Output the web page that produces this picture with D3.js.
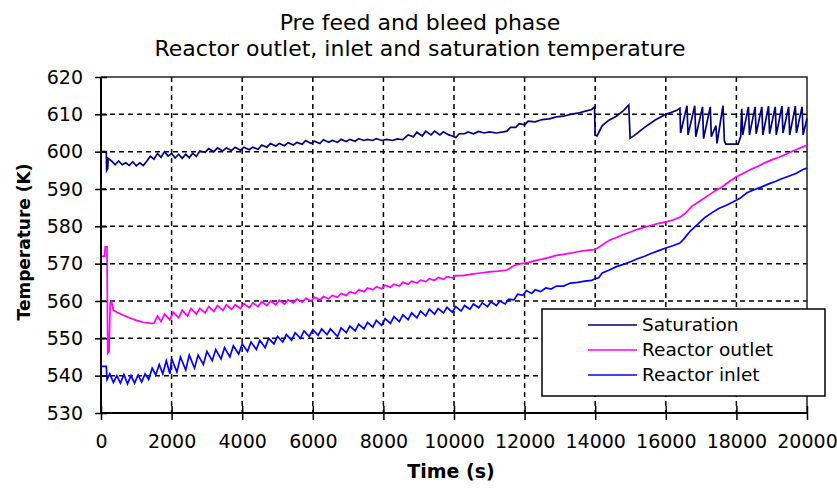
<!DOCTYPE html>
<html>
<head>
<meta charset="utf-8">
<script src="https://cdn.jsdelivr.net/npm/d3@7"></script>
<style>
  body { margin: 0; background: #fff; }
  svg { display: block; }
  text { font-family: "DejaVu Sans", "Liberation Sans", Arial, sans-serif; fill: #000; }
</style>
</head>
<body>
<svg id="chart" width="837" height="490"></svg>
<script>
// Tick values
const xTicks = [0, 2000, 4000, 6000, 8000, 10000, 12000, 14000, 16000, 18000, 20000];
const yTicks = [530, 540, 550, 560, 570, 580, 590, 600, 610, 620];

const titleLines = ['Pre feed and bleed phase', 'Reactor outlet, inlet and saturation temperature'];
const seriesNames = ['Saturation', 'Reactor outlet', 'Reactor inlet'];
const seriesColors = ['#000080', '#ff00ff', '#0000ff'];

// Saturation temperature [time (s), K]
const saturation = [
  [0,600],[150,600],[160,595],[190,595.5],[200,598.2],[300,597.5],[400,596.5],[500,597.5],[600,596.5],
  [700,597],[800,596.3],[900,597.3],[1000,596.2],[1100,597],[1200,596.3],[1300,597.5],[1400,598.8],
  [1500,598],[1600,599.5],[1700,598.5],[1800,600],[1900,598.8],[2000,599.5],[2100,598.3],[2200,599.3],
  [2300,598.2],[2400,599.3],[2500,598.4],[2600,599.6],[2700,598.7],[2800,600.2],[2950,599.8],[3050,600.8],
  [3200,600],[3300,601],[3450,600.2],[3550,601],[3700,600.3],[3800,601.2],[3950,600.4],[4050,601.2],
  [4200,600.5],[4300,601.2],[4450,600.6],[4550,601.8],[4700,601.2],[4800,602.2],[4950,601.5],[5050,602.2],
  [5200,601.6],[5300,602.4],[5450,601.8],[5550,602.5],[5700,602],[5800,603],[5950,602.2],[6050,602.8],
  [6200,602.2],[6300,603.2],[6450,602.5],[6550,603],[6700,602.5],[6800,603.3],[6950,602.7],[7050,603.3],
  [7200,602.8],[7300,603.5],[7450,603],[7550,603.3],[7700,603],[7800,603.5],[7950,603],[8100,603.3],
  [8250,603],[8400,603.4],[8550,603.2],[8700,604.5],[8850,604],[8950,605.2],[9100,604.2],[9200,605.5],
  [9350,604.5],[9450,605.5],[9600,604.5],[9700,605.3],[9850,604.5],[9950,604.2],[10050,603.8],[10150,604.8],
  [10300,604.8],[10400,605.3],[10550,604.8],[10700,605.4],[10850,605],[11000,605.3],[11200,605],[11400,605.3],
  [11500,605.5],[11600,606.5],[11750,606.5],[11850,607.5],[12000,607.2],[12100,608.2],[12300,608],[12500,608.6],
  [12700,608.8],[12900,609.3],[13100,609.5],[13300,610],[13500,610.3],[13700,610.8],[13900,611.3],[13980,612],
  [14000,604.5],[14050,604.2],[14200,607],[14400,608.5],[14600,609.5],[14800,611],[14950,612.5],[14990,603.6],
  [15100,604.3],[15400,606.5],[15700,608.5],[16000,610],[16300,611],[16400,611.6],[16420,605],[16600,612.3],
  [16630,604.5],[16820,612.3],[16850,604],[17040,612],[17070,603.5],[17260,612],[17290,604],[17420,607],
  [17450,602.2],[17620,612.3],[17660,602.8],[17700,602],[18050,602],[18120,604],[18150,611.5],[18180,604.5],
  [18340,612],[18370,604.5],[18530,612],[18560,604.8],[18720,612],[18750,604.5],[18910,612.2],[18940,604.8],
  [19100,612],[19130,604.5],[19290,612.2],[19320,605],[19480,612],[19510,604.5],[19670,612.2],[19700,605],
  [19860,612],[19890,604.5],[20000,609]
];

// Reactor outlet temperature [time (s), K]
const reactorOutlet = [
  [0,572],[100,572],[120,574.5],[170,574.5],[190,546],[230,546.5],[260,559.5],[300,559.8],[350,557.5],
  [450,557],[600,556.3],[800,555.5],[1000,554.8],[1200,554.3],[1400,554],[1500,554],[1600,556],[1700,554.5],
  [1800,556.5],[1950,555],[2050,557],[2200,555.5],[2300,557.5],[2450,556],[2550,558],[2700,556.5],[2800,558],
  [2950,556.8],[3050,558.5],[3200,557.2],[3300,558.8],[3450,557.5],[3550,559],[3700,557.8],[3800,559],
  [3950,558],[4050,559.3],[4200,558.2],[4300,559.5],[4450,558.5],[4550,559.8],[4700,558.8],[4800,560],
  [4950,559],[5050,560.2],[5200,559.2],[5300,560.3],[5450,559.5],[5550,560.5],[5700,559.7],[5800,560.7],
  [5950,560],[6050,561],[6200,560.3],[6300,561.2],[6450,560.6],[6550,561.5],[6700,561],[6800,562],
  [6950,561.5],[7050,562.5],[7200,562],[7300,563],[7450,562.5],[7550,563.5],[7700,563],[7800,563.8],
  [7950,563.3],[8050,564.2],[8200,563.7],[8300,564.5],[8450,564],[8550,565],[8700,564.5],[8800,565.3],
  [8950,564.8],[9050,565.6],[9200,565.2],[9300,566],[9450,565.5],[9550,566.3],[9700,565.8],[9800,566.5],
  [9950,566.2],[10050,566.8],[10250,566.8],[10500,567.2],[10750,567.5],[11000,567.8],[11250,568],[11500,568.3],
  [11700,569.5],[11900,570],[12100,570.3],[12300,570.8],[12500,571.2],[12700,571.7],[12900,572.2],[13100,572.5],
  [13300,572.8],[13500,573.2],[13700,573.5],[13900,573.7],[14000,573.8],[14200,575],[14400,576.3],[14600,577],
  [14800,577.8],[15000,578.5],[15200,579.2],[15400,579.8],[15600,580.3],[15800,580.8],[16000,581.2],[16200,581.7],
  [16400,582.4],[16550,583.5],[16750,585.5],[17000,587],[17200,588.3],[17400,589.5],[17600,590.6],[17800,592],
  [18000,593.3],[18200,594.2],[18400,595.2],[18600,596],[18800,597],[19000,597.8],[19200,598.5],[19400,599.3],
  [19600,600.2],[19800,601],[20000,601.8]
];

// Reactor inlet temperature [time (s), K]
const reactorInlet = [
  [0,542.5],[150,542.5],[170,539],[250,540.5],[350,538.2],[450,540],[550,538],[650,540.3],[750,537.8],
  [850,540],[950,538],[1050,540.2],[1150,538.3],[1250,540.5],[1350,539],[1450,542],[1550,540.2],[1650,543],
  [1750,540.5],[1850,544],[1950,540.5],[2000,544.5],[2150,541],[2250,545],[2400,541.5],[2500,545.5],
  [2650,542],[2750,545.5],[2900,543],[3000,546.5],[3150,544],[3250,547],[3400,544.5],[3500,547.5],
  [3650,545],[3750,548],[3900,545.8],[4000,548.5],[4150,546.5],[4250,549],[4400,547],[4500,549.5],
  [4650,547.5],[4750,550],[4900,548.5],[5000,550.5],[5150,549],[5250,551],[5400,549.5],[5500,551.5],
  [5650,550],[5750,552],[5900,550.5],[6000,552.3],[6150,550.8],[6250,552.5],[6400,551],[6500,552.5],
  [6700,550.5],[6800,552.8],[6950,551.5],[7050,553.3],[7200,552],[7300,553.8],[7450,552.5],[7550,554.3],
  [7700,553],[7800,554.8],[7950,553.5],[8050,555.3],[8200,554],[8300,555.8],[8450,554.5],[8550,556.3],
  [8700,555],[8800,556.8],[8950,555.5],[9050,557.3],[9200,556],[9300,557.8],[9450,556.5],[9550,558],
  [9700,556.8],[9800,558.3],[9950,557],[10050,558.5],[10200,557.3],[10300,558.8],[10450,557.8],[10550,559.2],
  [10700,558.2],[10800,559.5],[10950,558.5],[11050,559.8],[11200,558.8],[11300,560],[11450,559.2],[11550,560.5],
  [11700,560.3],[11800,561.8],[11950,561.5],[12050,562.8],[12200,562],[12300,563],[12450,562.5],[12600,563.5],
  [12750,563.2],[12900,564],[13100,564],[13300,564.8],[13500,565],[13700,565.3],[13900,565.5],[14000,566],
  [14100,566.2],[14200,567.5],[14400,568.3],[14600,569.2],[14800,569.8],[15000,570.5],[15200,571.3],[15400,572],
  [15600,572.8],[15800,573.5],[16000,574.2],[16200,574.8],[16400,575.5],[16500,576.5],[16700,578.8],[16900,580.5],
  [17100,582.3],[17300,583.6],[17500,584.8],[17700,585.6],[17900,586.5],[18100,587.5],[18300,589],[18500,589.8],
  [18700,590.5],[18900,591.3],[19100,592],[19300,592.8],[19500,593.5],[19700,594.2],[19900,595.3],[20000,595.6]
];

const allSeries = [saturation, reactorOutlet, reactorInlet];

const svg = d3.select('#chart');
const plot = { left: 101, right: 807, top: 77, bottom: 413 };

const x = d3.scaleLinear().domain([0, 20000]).range([plot.left, plot.right]);
const y = d3.scaleLinear().domain([530, 620]).range([plot.bottom, plot.top]);

// Dashed grid
const grid = svg.append('g').attr('class', 'grid')
  .attr('stroke', '#000').attr('stroke-width', 1.5).attr('stroke-dasharray', '5,4');
grid.selectAll('line.h')
  .data(yTicks.slice(1, -1))
  .enter().append('line')
  .attr('x1', plot.left).attr('x2', plot.right)
  .attr('y1', d => y(d)).attr('y2', d => y(d));
grid.selectAll('line.v')
  .data(xTicks.slice(1, -1))
  .enter().append('line')
  .attr('y1', plot.top).attr('y2', plot.bottom)
  .attr('x1', d => x(d)).attr('x2', d => x(d));

// Plot border (top + right)
svg.append('path')
  .attr('d', `M${plot.left},${plot.top}H${plot.right}V${plot.bottom}`)
  .attr('fill', 'none').attr('stroke', '#222').attr('stroke-width', 1.5);

// Series lines
const line = d3.line().x(d => x(d[0])).y(d => y(d[1]));
svg.append('g').selectAll('path')
  .data(allSeries)
  .enter().append('path')
  .attr('d', line)
  .attr('fill', 'none')
  .attr('stroke', (d, i) => seriesColors[i])
  .attr('stroke-width', 1.7)
  .attr('stroke-linejoin', 'miter');

// Axes
const yAxis = svg.append('g')
  .attr('transform', `translate(${plot.left},0)`)
  .call(d3.axisLeft(y).tickValues(yTicks).tickSize(6).tickPadding(12));
yAxis.selectAll('.tick line').attr('x2', 6).attr('x1', -6);

const xAxis = svg.append('g')
  .attr('transform', `translate(0,${plot.bottom})`)
  .call(d3.axisBottom(x).tickValues(xTicks).tickSize(7).tickPadding(15).tickFormat(d3.format('d')));
xAxis.selectAll('.tick line').attr('y1', -7).attr('y2', 7);

[yAxis, xAxis].forEach(a => {
  a.select('.domain').attr('stroke', '#000').attr('stroke-width', 2);
  a.selectAll('.tick line').attr('stroke', '#000').attr('stroke-width', 1.5);
  a.selectAll('.tick text').style('font-size', '19px').attr('fill', '#000')
    .style('font-family', '"DejaVu Sans", sans-serif');
});
yAxis.select('.domain').attr('d', `M0,${plot.top}V${plot.bottom}`);
xAxis.select('.domain').attr('d', `M${plot.left},0H${plot.right}`);

// Titles
svg.append('g').selectAll('text')
  .data(titleLines)
  .enter().append('text')
  .attr('x', 420).attr('y', (d, i) => 30 + i * 26)
  .attr('text-anchor', 'middle')
  .style('font-size', '22px')
  .text(d => d);

svg.append('text')
  .attr('transform', `translate(30,242) rotate(-90)`)
  .attr('text-anchor', 'middle')
  .style('font-size', '17px').style('font-weight', 'bold')
  .text('Temperature (K)');

svg.append('text')
  .attr('x', 451).attr('y', 478)
  .attr('text-anchor', 'middle')
  .style('font-size', '19px').style('font-weight', 'bold')
  .text('Time (s)');

// Legend
const legend = svg.append('g').attr('transform', 'translate(542,309)');
legend.append('rect')
  .attr('width', 283).attr('height', 87)
  .attr('fill', '#fff').attr('stroke', '#000').attr('stroke-width', 1.5);
const item = legend.selectAll('g.item')
  .data(seriesNames)
  .enter().append('g')
  .attr('transform', (d, i) => `translate(0,${16 + i * 25})`);
item.append('line')
  .attr('x1', 46).attr('x2', 95)
  .attr('stroke', (d, i) => seriesColors[i]).attr('stroke-width', 1.7);
item.append('text')
  .attr('x', 100).attr('dy', '0.35em')
  .style('font-size', '18.5px')
  .text(d => d);
</script>
</body>
</html>
